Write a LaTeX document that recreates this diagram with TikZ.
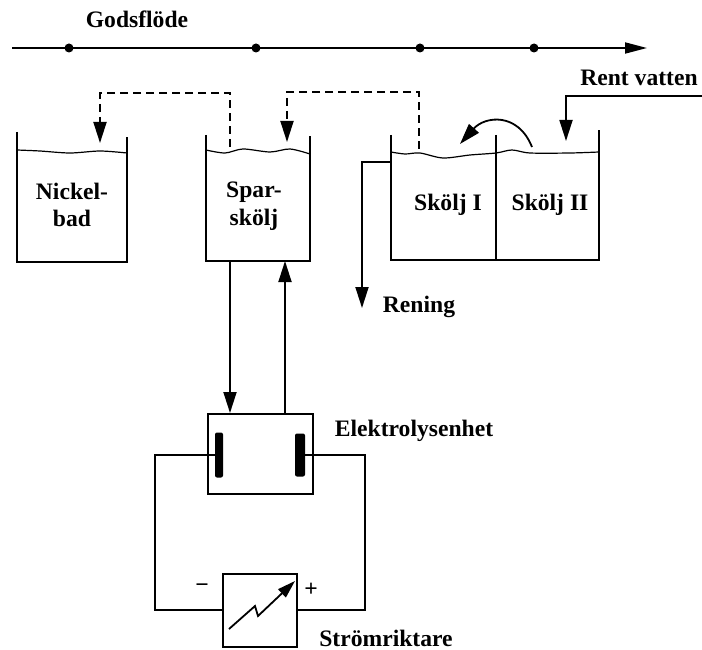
\documentclass[tikz,border=0pt]{standalone}
\usepackage{fontspec}
\setmainfont{Liberation Serif}
\usetikzlibrary{arrows.meta}
\tikzset{
  txt/.style={inner sep=0pt,align=center,font=\fontsize{23.6}{27.5}\selectfont\bfseries},
  ledning/.style={line width=1.8pt},
  pil/.style={ledning,-{Triangle[length=21pt,width=13pt]}},
  streckad/.style={pil,dash pattern=on 8pt off 5pt},
  kar/.style={line width=2pt},
  yta/.style={line width=1.2pt},
  prick/.style={circle,fill=black,inner sep=0pt,minimum size=9pt},
  ruta/.style={draw,line width=2pt,inner sep=0pt},
  elektrod/.style={fill=black,rounded corners=2pt,inner sep=0pt}
}
\begin{document}
\begin{tikzpicture}[x=1pt,y=-1pt]
\useasboundingbox (0,0) rectangle (702,650);

% Godsflöde
\coordinate (start) at (12,48);
\coordinate (slut) at (647,48);
\draw[ledning,-{Triangle[length=22pt,width=11pt]}] (start) -- (slut);
\foreach \x in {69,256,420,534}
  \node[prick] (p\x) at (\x,48) {};
\node[txt] (gods) at (137,19) {Godsflöde};

% Nickelbad
\draw[kar]
(17,132)
--
(17,262)
--
(127,262)
--
(127,137);
\draw[yta] plot[smooth] coordinates {(17,150) (40,151) (70,153) (100,151) (127,153)};
\node[txt] (nickel) at (72,205) {Nickel-\\bad};

% Sparskölj
\draw[kar]
(206,135)
--
(206,261)
--
(310,261)
--
(310,136);
\draw[yta] plot[smooth] coordinates {(206,150) (225,153) (243,149) (270,152) (290,149) (310,154)};
\node[txt] (spar) at (254,206) {Spar-\\skölj};

% Skölj I och II
\draw[kar]
(391,135)
--
(391,260)
--
(599,260)
--
(599,130);
\draw[kar] (496,135) -- (496,260);
\draw[yta] plot[smooth] coordinates {(391,152) (405,154) (420,153) (443,158) (470,155) (496,153) (512,150) (530,153) (570,153) (599,152)};
\node[txt] (skolj1) at (448,205) {Skölj I};
\node[txt] (skolj2) at (550,205) {Skölj II};

% Sparkopplingar
\coordinate (sparUt) at (230,147);
\coordinate (sparHorn) at (230,93);
\coordinate (nickelHorn) at (100,93);
\coordinate (nickelIn) at (100,143);
\draw[streckad] (sparUt) -- (sparHorn) -- (nickelHorn) -- (nickelIn);
\coordinate (skoljUt) at (419,149);
\coordinate (skoljHorn) at (419,92);
\coordinate (sparHorn2) at (287,92);
\coordinate (sparIn) at (287,142);
\draw[streckad] (skoljUt) -- (skoljHorn) -- (sparHorn2) -- (sparIn);

% Rent vatten
\node[txt] (rent) at (639,78) {Rent vatten};
\coordinate (rentStart) at (702,96);
\coordinate (rentHorn) at (566,96);
\coordinate (rentIn) at (566,141);
\draw[pil] (rentStart) -- (rentHorn) -- (rentIn);

% Mellan sköljarna
\coordinate (overUt) at (532,147);
\coordinate (overIn) at (460,144);
\draw[pil] (overUt) .. controls (518,112) and (485,116) .. (overIn);

% Rening
\coordinate (reningUt) at (391,162);
\coordinate (reningHorn) at (362,162);
\coordinate (reningIn) at (362,308);
\draw[pil] (reningUt) -- (reningHorn) -- (reningIn);
\node[txt] (rening) at (419,307) {Rening};

% Elektrolysenhet
\node[ruta,minimum width=105pt,minimum height=80pt] (elektro) at (260.5,454) {};
\node[elektrod,minimum width=8pt,minimum height=45pt] (katod) at (219,455) {};
\node[elektrod,minimum width=10pt,minimum height=43pt] (anod) at (300,455) {};
\node[txt] (etxt) at (414,431) {Elektrolysenhet};
\coordinate (sparBotten1) at (230,261);
\coordinate (sparBotten2) at (285,261);
\draw[pil] (sparBotten1) -- (sparBotten1 |- elektro.north);
\draw[pil] (sparBotten2 |- elektro.north) -- (sparBotten2);

% Strömriktare
\node[ruta,minimum width=74pt,minimum height=73pt] (omv) at (260,610) {};
\node[txt] (otxt) at (386,638) {Strömriktare};
\node[txt] (minus) at (202,588) {\textminus};
\node[txt] (plus) at (311,590) {+};
\coordinate (vanster) at (155,455);
\coordinate (hoger) at (365,455);
\draw[ledning] (katod.west) -- (vanster) |- (omv.west);
\draw[ledning] (anod.east) -- (hoger) |- (omv.east);

% Blixt
\coordinate (blixtA) at (229,629);
\coordinate (blixtB) at (255,606);
\coordinate (blixtC) at (258,616);
\coordinate (blixtD) at (295,581);
\draw[ledning,-{Triangle[length=18pt,width=11pt]}] (blixtA) -- (blixtB) -- (blixtC) -- (blixtD);

\end{tikzpicture}
\end{document}
